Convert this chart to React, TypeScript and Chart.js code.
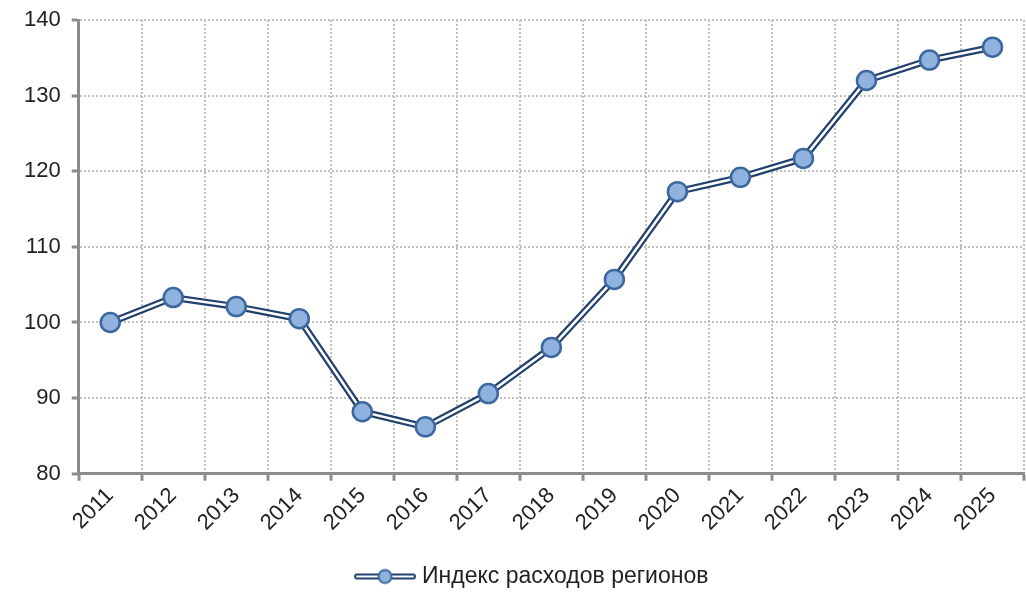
import React, { useEffect, useRef } from "react";
import { Chart, registerables } from "chart.js";

Chart.register(...registerables);

const years = ["2011","2012","2013","2014","2015","2016","2017","2018","2019","2020","2021","2022","2023","2024","2025"];
const expenditureIndex = [100, 103.3, 102.1, 100.5, 88.2, 86.2, 90.6, 96.7, 105.7, 117.3, 119.2, 121.7, 132, 134.7, 136.4];
const seriesLabel = "Индекс расходов регионов";
const yTicks = [80, 90, 100, 110, 120, 130, 140];

const DARK = "#22406d";
const FILL = "#8fb2de";
const PBORDER = "#3d679f";
const FONT = "'Liberation Sans', Arial, sans-serif";

const ICON_W = 93;
const ICON_H = 20;

function makeLegendIcon(): HTMLCanvasElement {
  const c = document.createElement("canvas");
  c.width = ICON_W; c.height = ICON_H;
  const ctx = c.getContext("2d")!;
  const x1 = ICON_W, x0 = ICON_W - 62, cy = ICON_H / 2;
  ctx.lineCap = "round";
  ctx.strokeStyle = DARK; ctx.lineWidth = 6;
  ctx.beginPath(); ctx.moveTo(x0 + 3, cy); ctx.lineTo(x1 - 3, cy); ctx.stroke();
  ctx.strokeStyle = "#ffffff"; ctx.lineWidth = 2;
  ctx.beginPath(); ctx.moveTo(x0 + 3, cy); ctx.lineTo(x1 - 3, cy); ctx.stroke();
  ctx.fillStyle = FILL; ctx.strokeStyle = PBORDER; ctx.lineWidth = 2;
  ctx.beginPath(); ctx.arc((x0 + x1) / 2, cy, 6.5, 0, Math.PI * 2); ctx.fill(); ctx.stroke();
  return c;
}

export default function App() {
  const ref = useRef<HTMLCanvasElement>(null);
  useEffect(() => {
    document.body.style.margin = "0";
    const icon = makeLegendIcon();
    const chart = new Chart(ref.current!, {
      type: "line",
      data: {
        labels: years,
        datasets: [
          {
            label: seriesLabel,
            data: expenditureIndex,
            showLine: false,
            pointRadius: 9.5,
            pointBackgroundColor: FILL,
            pointBorderColor: PBORDER,
            pointBorderWidth: 2.5,
            borderColor: DARK,
          },
          {
            label: "inner",
            data: expenditureIndex,
            borderColor: "#ffffff",
            borderWidth: 2.5,
            pointRadius: 0,
            tension: 0,
          },
          {
            label: "outer",
            data: expenditureIndex,
            borderColor: DARK,
            borderWidth: 7,
            pointRadius: 0,
            tension: 0,
          },
        ],
      },
      options: {
        animation: false,
        responsive: false,
        maintainAspectRatio: false,
        layout: { autoPadding: false, padding: { left: 13, right: 2, top: 20, bottom: 0 } },
        plugins: {
          tooltip: { enabled: false },
          legend: {
            position: "bottom",
            labels: {
              usePointStyle: true,
              pointStyleWidth: 82,
              padding: 3,
              color: "#222",
              font: { family: FONT, size: 23 },
              generateLabels: () => [
                {
                  text: seriesLabel,
                  pointStyle: icon as any,
                  fillStyle: FILL,
                  strokeStyle: DARK,
                  lineWidth: 0,
                  hidden: false,
                  datasetIndex: 0,
                  fontColor: "#222",
                },
              ],
            },
          },
        },
        scales: {
          x: {
            offset: true,
            grid: {
              offset: true,
              color: "#c0c0c0",
              lineWidth: 2,
              tickColor: "#8c8c8c",
              tickWidth: 3,
              tickLength: 7,
              tickBorderDash: [],
            },
            border: { color: "#8c8c8c", width: 3, dash: [2, 2] },
            ticks: {
              color: "#222",
              font: { family: FONT, size: 22 },
              maxRotation: 45,
              minRotation: 45,
              padding: 2,
              autoSkip: false,
            },
            afterFit: (scale: any) => { scale.height += 24; scale.paddingRight = 0; },
          },
          y: {
            min: 80,
            max: 140,
            afterBuildTicks: (scale: any) => { scale.ticks = yTicks.map((v) => ({ value: v })); },
            afterFit: (scale: any) => { scale.paddingTop = 0; scale.paddingBottom = 0; },
            grid: {
              color: "#c0c0c0",
              lineWidth: 2,
              tickColor: "#8c8c8c",
              tickWidth: 3,
              tickLength: 7,
              tickBorderDash: [],
            },
            border: { color: "#8c8c8c", width: 3, dash: [2, 2] },
            ticks: {
              color: "#222",
              font: { family: FONT, size: 22 },
              padding: 11,
            },
          },
        },
      },
    });
    return () => chart.destroy();
  }, []);
  return (
    <div style={{ position: "absolute", left: 0, top: 0, width: 1026, height: 598 }}>
      <canvas ref={ref} width={1026} height={598} style={{ width: 1026, height: 598 }} />
    </div>
  );
}
